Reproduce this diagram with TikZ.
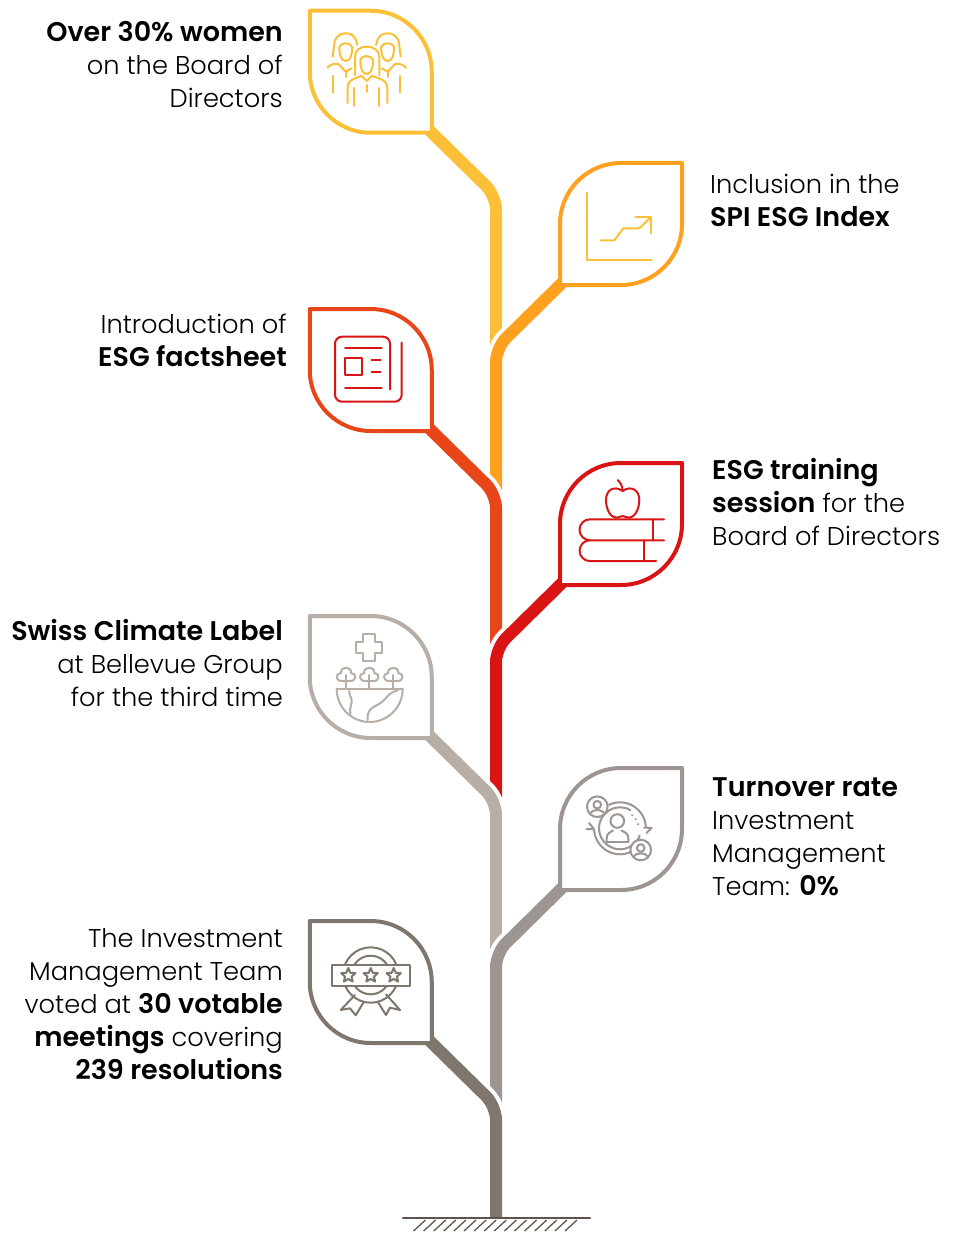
\documentclass[tikz,border=0pt]{standalone}
\usepackage{fontspec}
\usepackage{xcolor}
\setmainfont{Poppins}[UprightFont=* Light,BoldFont=* SemiBold,BoldFeatures={Scale=1.05}]
\usetikzlibrary{shapes.geometric}

\begin{document}
\begin{tikzpicture}[x=1pt,y=-1pt,
  leaf/.style={line width=4pt,line join=round,fill=white},
  stalk/.style={line width=12pt,rounded corners=14pt},
  halo/.style={line width=20pt,rounded corners=14pt,white},
  icon/.style={line width=2pt,line cap=round,line join=round},
  txtl/.style={anchor=base east,align=right,inner sep=0pt,font=\fontsize{25.7}{33}\selectfont},
  txtr/.style={anchor=base west,align=left,inner sep=0pt,font=\fontsize{25.7}{33}\selectfont},
  awardstar/.style={star,star points=5,star point ratio=2.2,draw,inner sep=0pt,minimum size=15pt,line width=2pt}]
\definecolor{leafyellow}{HTML}{FBC037}
\definecolor{leaforange}{HTML}{FFA01E}
\definecolor{leafrust}{HTML}{E84518}
\definecolor{leafred}{HTML}{D91414}
\definecolor{leafsand}{HTML}{B6AEA7}
\definecolor{leafgrey}{HTML}{9C9591}
\definecolor{leafbark}{HTML}{7F766D}
\definecolor{soil}{HTML}{5F544D}
\useasboundingbox (0,0) rectangle (955,1233);
  % branches and leaves, top to bottom
  \foreach \n/\clr/\cx/\s/\cy/\nk in {a/leafyellow/370.75/1/71.75/348,b/leaforange/621/-1/224/494,c/leafrust/370.75/1/370/648,d/leafred/621/-1/524/801,e/leafsand/370.75/1/677/953,f/leafgrey/621/-1/829/1106,g/leafbark/370.75/1/982/1218}
  {
    \coordinate (tip\n) at ({\cx+\s*55},{\cy+55});
    \coordinate (knee\n) at (496,{\cy+124});
    \coordinate (foot\n) at (496,\nk);
    \draw[halo] (tip\n) -- (knee\n) -- (foot\n);
    \draw[stalk,\clr] (tip\n) -- (knee\n) -- (foot\n);
    \draw[leaf,draw=\clr,shift={(\cx,\cy)},xscale=\s] (-61,-61) -- (0,-61)
      .. controls (33.7,-61) and (61,-33.7) .. (61,0) -- (61,61) -- (0,61)
      .. controls (-33.7,61) and (-61,33.7) .. (-61,0) -- cycle;
  }
  % ground
  \coordinate (groundl) at (403,1218);
  \coordinate (groundr) at (590,1218);
  \draw[soil,line width=2.4pt,line cap=round] (groundl) -- (groundr);
  \foreach \i in {0,...,15}
  {  \draw[soil,line width=1.3pt] ({413.5+10.1*\i},1231) -- ({425.5+10.1*\i},1220);}

  % women
  \begin{scope}[icon,leafyellow]
    \draw (355,75) -- (355,57) .. controls (355,50) and (360,46.7) .. (366.7,46.7)
      .. controls (373.4,46.7) and (379.3,50) .. (379.3,57) -- (379.3,75);
    \draw (360.3,60) .. controls (360.3,67) and (362,74) .. (366.7,74)
      .. controls (371.4,74) and (373.1,67) .. (373.1,60);
    \draw (360.3,60) .. controls (362,55.5) and (369,54) .. (373.1,60);
    \draw (347.7,103) -- (347.7,87) .. controls (347.7,81) and (352,79) .. (361.7,76) -- (366.7,81) -- (371.7,76)
      .. controls (381.4,79) and (387.3,81) .. (387.3,87) -- (387.3,103);
    \draw (354.3,88) -- (354.3,106);
    \draw (379,88) -- (379,106);
    \draw (366.7,85) -- (366.7,92);
    \foreach \m in {1,-1}
    {
      \draw[shift={(366.7,0)},xscale=\m] (-34,56.7) -- (-32,41) .. controls (-30,36) and (-26,33.3) .. (-21,33.3)
        .. controls (-15,33.3) and (-11,36) .. (-9.4,45);
      \draw[shift={(366.7,0)},xscale=\m] (-27.4,47) .. controls (-27.4,54) and (-26,61) .. (-21,61)
        .. controls (-16,61) and (-14.4,54) .. (-14.4,47) .. controls (-17,42) and (-25,42) .. (-27.4,47);
      \draw[shift={(366.7,0)},xscale=\m] (-39.4,67.7) .. controls (-36,64.5) and (-33,63.3) .. (-28.4,64) -- (-21,71.7) -- (-15,68.3);
      \draw[shift={(366.7,0)},xscale=\m] (-21,72) -- (-21,77);
      \draw[shift={(366.7,0)},xscale=\m] (-33.4,76) -- (-33.4,92.7);
    }
  \end{scope}
  % chart
  \begin{scope}[icon,leafyellow]
    \draw (587.3,192.7) -- (587.3,259.7) -- (651.7,259.7);
    \draw (600.7,240.3) -- (614.3,240.3) -- (623.3,228.3) -- (639.3,228.3) -- (650.7,217.3);
    \draw (635.7,217.3) -- (651,217.3) -- (651,233.3);
  \end{scope}
  % factsheet
  \begin{scope}[icon,leafred]
    \draw[rounded corners=7pt] (390,389.3) -- (390,336.7) -- (335,336.7) -- (335,401.7) -- (401.7,401.7) -- (401.7,342.7);
    \draw (345,348.3) -- (381.7,348.3);
    \draw (345,357.7) rectangle (361.7,374.7);
    \draw (371.7,360.3) -- (380.7,360.3);
    \draw (371.7,372) -- (380.7,372);
    \draw (345,387.7) -- (381.7,387.7);
  \end{scope}
  % apple and books
  \begin{scope}[icon,leafred]
    \draw (622.7,491) .. controls (614,485) and (606,490) .. (606,500)
      .. controls (606,510) and (611,518) .. (616.7,517.7) .. controls (619,517.7) and (621,516) .. (622.7,516)
      .. controls (624.5,516) and (626.5,517.7) .. (628.7,517.7) .. controls (634,518) and (639.3,510) .. (639.3,500)
      .. controls (639.3,490) and (631,485) .. (622.7,491);
    \draw (622.7,491) .. controls (622.7,486) and (620,482) .. (617.7,480);
    \draw (664,519.3) -- (590,519.3) arc[start angle=270,end angle=90,radius=10.5] -- (664,540.3);
    \draw (652.7,519.3) -- (652.7,540.3);
    \draw (590,540.3) arc[start angle=270,end angle=90,radius=10.4] -- (656,561);
    \draw (644,540.3) -- (644,561);
  \end{scope}
  % climate label
  \begin{scope}[icon,leafsand]
    \draw (363.2,634) -- (374.8,634) -- (374.8,641.5) -- (382.3,641.5) -- (382.3,653.1) -- (374.8,653.1) -- (374.8,660.6)
      -- (363.2,660.6) -- (363.2,653.1) -- (355.7,653.1) -- (355.7,641.5) -- (363.2,641.5) -- cycle;
    \foreach \tx in {346,369.3,393.3}
    {
      \draw[shift={(\tx,0)}] (-3,681) .. controls (-11,682) and (-11,673) .. (-5,673)
        .. controls (-6,666) and (6,666) .. (5,673) .. controls (11,673) and (11,682) .. (3,681) -- cycle;
      \draw[shift={(\tx,0)}] (0,675) -- (0,688.5);
    }
    \draw (402.7,689) -- (336.7,689);
    \draw (402.7,689) arc[start angle=0,end angle=180,radius=33];
    \draw (349.3,691) .. controls (349,696) and (352,697) .. (351.7,702) .. controls (351.5,706) and (349,709) .. (350.5,714);
    \draw (398.3,690) .. controls (392,692) and (389,694) .. (385,699) .. controls (381,704) and (376,705) .. (372,708)
      .. controls (368,711) and (367,716) .. (367.7,720);
  \end{scope}
  % turnover
  \begin{scope}[icon,leafgrey]
    \draw (620,828.3) ++(245:26) arc[start angle=245,end angle=355,radius=26];
    \draw (620,828.3) ++(65:26) arc[start angle=65,end angle=175,radius=26];
    \draw (620,828.3) ++(170:21) arc[start angle=170,end angle=300,radius=21];
    \draw (620,828.3) ++(20:21) arc[start angle=20,end angle=170,radius=21];
    \draw (632,815) -- (632.5,815.5);
    \draw (635.5,819) -- (636,819.5);
    \draw (638,824) -- (638.2,824.5);
    \draw (589,823) -- (594,829) -- (586.5,829);
    \draw (646.5,833) -- (651.5,828) -- (644,827.5);
    \draw (617.3,821) circle[radius=6.8];
    \draw (606.7,841.7) -- (606.7,838) .. controls (606.7,833) and (611,832) .. (613,830.5);
    \draw (628.3,841.7) -- (628.3,838) .. controls (628.3,833) and (624,832) .. (621.5,830.5);
    \draw (606.7,841.7) -- (628.3,841.7);
    \foreach \px/\py in {597.3/806.7,640.7/850}
    {
      \draw[fill=white] (\px,\py) circle[radius=10.3];
      \draw (\px,{\py-2}) circle[radius=3.8];
      \draw (\px-6.5,\py+6) .. controls (\px-5,\py+2.5) and (\px+5,\py+2.5) .. (\px+6.5,\py+6);
    }
  \end{scope}
  % award
  \begin{scope}[icon,leafbark]
    \draw (370.7,975) circle[radius=27.7];
    \draw (370.7,975) circle[radius=19.3];
    \draw[fill=white] (331.7,965) rectangle (410,986.3);
    \draw (355,995) -- (340.7,1010) -- (350,1008.3) -- (355.7,1015.3) -- (363.3,1002.7);
    \draw (386,994.3) -- (400,1010) -- (390,1007.7) -- (386,1015) -- (378.3,1002.7);
    \node[awardstar] (stara) at (348.3,975.5) {};
    \node[awardstar] (starb) at (370.7,975.5) {};
    \node[awardstar] (starc) at (393.7,975.5) {};
  \end{scope}

  % labels
  \node[txtl] (women) at (283,108) {\textbf{Over 30\% women}\\on the Board of\\Directors};
  \node[txtr] (index) at (710,227) {Inclusion in the\\\textbf{SPI ESG Index}};
  \node[txtl] (sheet) at (287,366) {Introduction of\\\textbf{ESG factsheet}};
  \node[txtr] (training) at (712,545) {\textbf{ESG training}\\\textbf{session} for the\\Board of Directors};
  \node[txtl] (climate) at (283,706) {\textbf{Swiss Climate Label}\\at Bellevue Group\\for the third time};
  \node[txtr] (turnover) at (712,895) {\textbf{Turnover rate}\\Investment\\Management\\Team: \textbf{0\%}};
  \node[txtl] (voting) at (283,1079) {The Investment\\Management Team\\voted at \textbf{30 votable}\\\textbf{meetings} covering\\\textbf{239 resolutions}};
\end{tikzpicture}
\end{document}
